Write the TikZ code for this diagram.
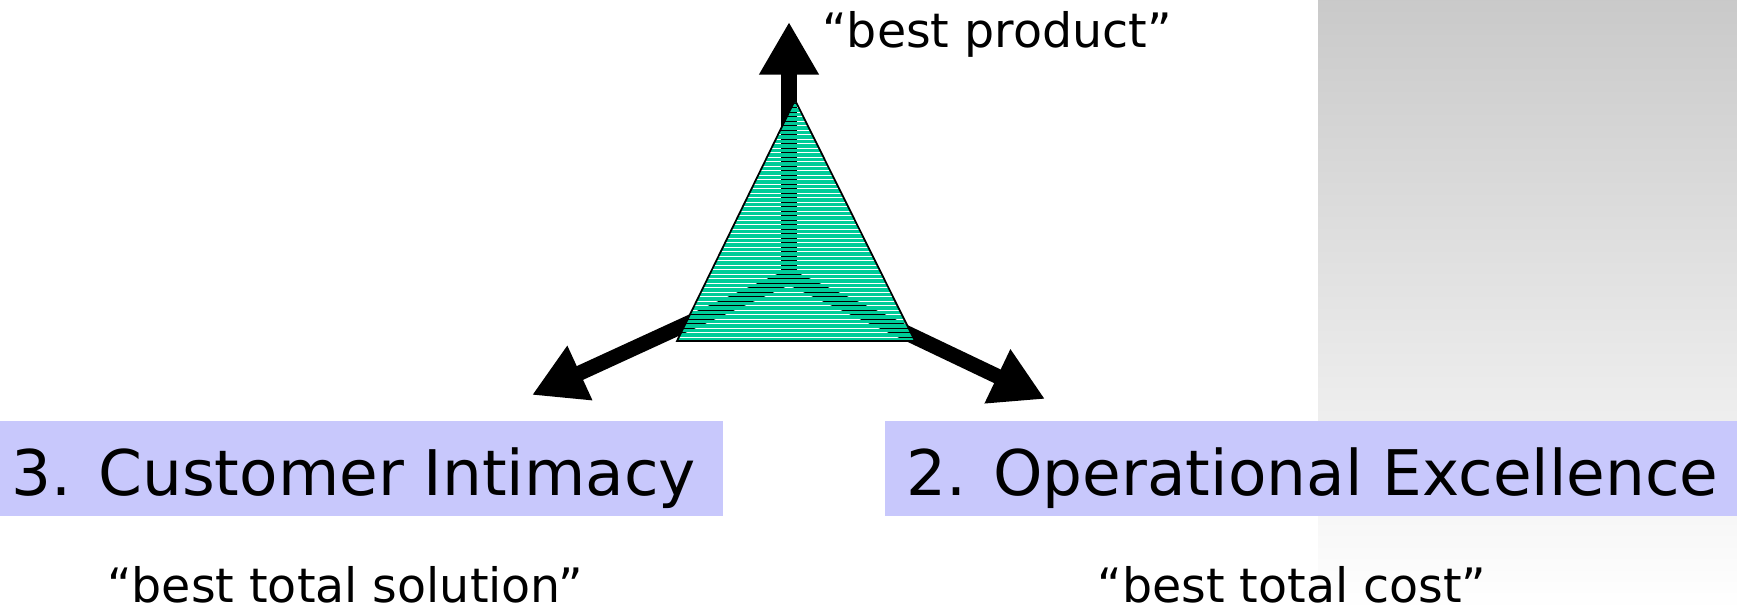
\documentclass[tikz,border=0pt]{standalone}
\usepackage{fontspec}
\setmainfont{DejaVu Sans}
\usetikzlibrary{arrows.meta}
\definecolor{stripegreen}{RGB}{0,204,153}
\definecolor{boxblue}{RGB}{200,200,252}

\begin{document}
\begin{tikzpicture}[
    axis/.style={line width=4.3pt,-{Triangle[length=15pt,width=16pt]}},
    stripe/.style={stripegreen,line width=0.033cm},
    outline/.style={draw=black,line width=0.5pt},
    strategy/.style={fill=boxblue,draw=none},
    title/.style={anchor=base west,inner sep=0pt,font=\fontsize{17.9}{22}\selectfont},
    motto/.style={anchor=base,inner sep=0pt,font=\fontsize{13.5}{17}\selectfont}]
%
\useasboundingbox (0,0) rectangle (17.37,6.10);
%
% ============ Hintergrund rechts ============
\shade[top color=black!21,middle color=black!8,bottom color=white]
  (13.18,0) rectangle (17.37,6.10);
%
% ============ Achsen ============
\coordinate (hub)   at (7.89,3.33);
\coordinate (up)    at (7.89,5.88);
\coordinate (left)  at (5.32,2.15);
\coordinate (right) at (10.45,2.11);
\draw[axis] (hub) -- (up);
\draw[axis] (hub) -- (left);
\draw[axis] (hub) -- (right);
%
% ============ Dreieck, gestreift ============
\coordinate (apex) at (7.95,5.10);
\coordinate (bl)   at (6.77,2.69);
\coordinate (br)   at (9.15,2.69);
\begin{scope}
  \clip (apex) -- (bl) -- (br) -- cycle;
  \foreach \i in {0,...,53}{
    \pgfmathsetmacro\ys{2.706+0.045*\i}
    \draw[stripe] (6.6,\ys) -- (9.3,\ys);
  }
\end{scope}
\draw[outline] (apex) -- (bl) -- (br) -- cycle;
%
% ============ Strategien ============
\fill[strategy] (0,0.94)    rectangle (7.23,1.89);   % links
\fill[strategy] (8.85,0.94) rectangle (17.37,1.89);  % rechts
\node[title] (intimacy)   at (0.11,1.14) {3. Customer Intimacy};
\node[title] (excellence) at (9.06,1.14) {2. Operational Excellence};
%
% ============ Leitsaetze ============
\node[motto] (product)  at (9.97,5.62) {“best product”};
\node[motto] (solution) at (3.45,0.07) {“best total solution”};
\node[motto] (cost)     at (12.92,0.07) {“best total cost”};
%
\end{tikzpicture}
\end{document}
